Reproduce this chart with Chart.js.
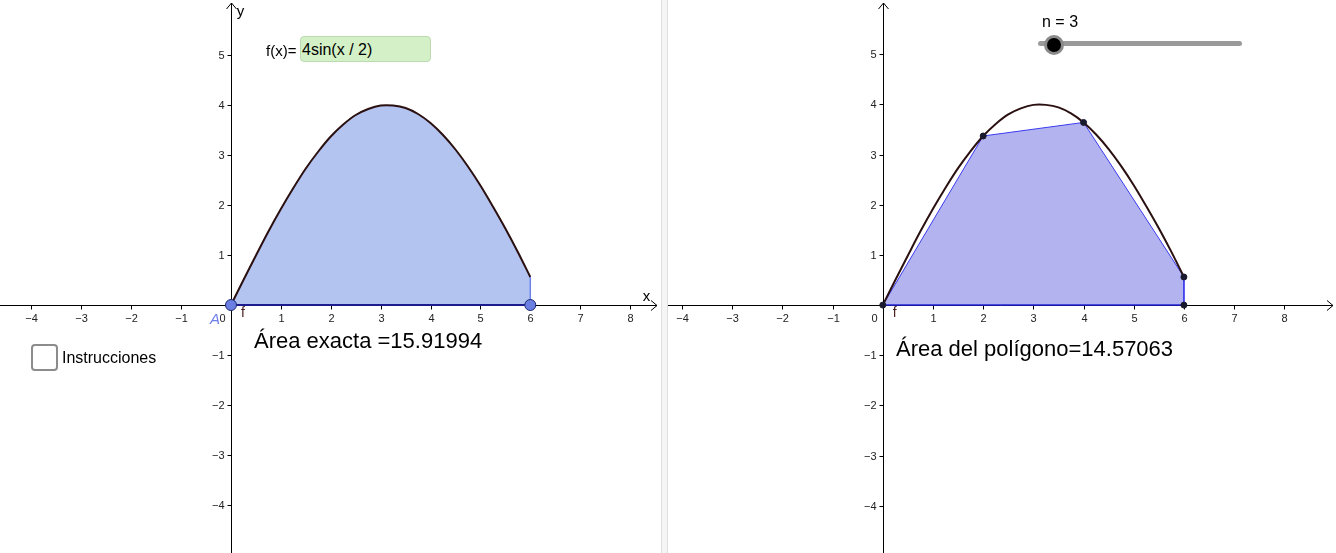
<!DOCTYPE html>
<html>
<head>
<meta charset="utf-8">
<script src="https://cdn.jsdelivr.net/npm/chart.js@4"></script>
<style>
  body { margin: 0; width: 1336px; height: 553px; overflow: hidden; background: #fff; position: relative;
         font-family: "Liberation Sans", Arial, sans-serif; }
  canvas { position: absolute; top: 0; }
  #left { left: 0; }
  #right { left: 668px; }
  .divider { position: absolute; left: 661px; top: 0; width: 5px; height: 553px; background: #f5f5f5;
             border-left: 1px solid #dedede; border-right: 1px solid #dedede; }
  .txt { position: absolute; white-space: nowrap; color: #000; line-height: 1; }
  .input { position: absolute; left: 300px; top: 36px; width: 128px; height: 24px; background: #d3f0c6;
           border: 1px solid #bcd9b0; border-radius: 4px; font-size: 16px; line-height: 25px; padding-left: 1px; box-sizing: content-box; }
  .check { position: absolute; left: 31px; top: 344px; width: 23px; height: 23px; border: 2px solid #8c8c8c;
           border-radius: 4px; background: #fff; }
  .track { position: absolute; left: 1038px; top: 41px; width: 204px; height: 5px; background: #9a9a9a; border-radius: 3px; }
  .knob { position: absolute; left: 1044px; top: 35px; width: 14px; height: 14px; background: #000;
          border: 3px solid #8a8a8a; border-radius: 50%; }
</style>
</head>
<body>
<canvas id="left" width="661" height="553"></canvas>
<div class="divider"></div>
<canvas id="right" width="668" height="553"></canvas>

<div class="txt" style="left:266px;top:43px;font-size:15px">f(x)=</div>
<div class="input">4sin(x / 2)</div>
<div class="check"></div>
<div class="txt" style="left:62px;top:350px;font-size:16px">Instrucciones</div>
<div class="txt" style="left:254px;top:330px;font-size:22px">Área exacta =15.91994</div>
<div class="txt" style="left:1042px;top:14px;font-size:16px">n = 3</div>
<div class="track"></div>
<div class="knob"></div>
<div class="txt" style="left:896px;top:338px;font-size:22px">Área del polígono=14.57063</div>

<script>
// f(x) = 4sin(x/2)
const curveX = [0, 0.25, 0.5, 0.75, 1, 1.25, 1.5, 1.75, 2, 2.25, 2.5, 2.75, 3,
                3.25, 3.5, 3.75, 4, 4.25, 4.5, 4.75, 5, 5.25, 5.5, 5.75, 6];
const curveY = [0, 0.50, 0.99, 1.47, 1.92, 2.34, 2.73, 3.07, 3.37, 3.61, 3.80, 3.92, 3.99,
                3.99, 3.94, 3.82, 3.64, 3.40, 3.11, 2.77, 2.39, 1.97, 1.53, 1.06, 0.56];

// integration limits (points on the x axis)
const limitsX = [0, 6];
const limitsY = [0, 0];
const rightEdgeX = [6, 6];
const rightEdgeY = [0, 0.56];

// polygon with n = 3
const polyX = [0, 2, 4, 6, 6];
const polyY = [0, 3.37, 3.64, 0.56, 0];

const xTicks = [-4, -3, -2, -1, 1, 2, 3, 4, 5, 6, 7, 8];
const yTicks = [-4, -3, -2, -1, 1, 2, 3, 4, 5];

const pts = (xs, ys) => xs.map((x, i) => ({ x: x, y: ys[i] }));
const fmt = v => v < 0 ? '\u2212' + Math.abs(v) : String(v);

const axesPlugin = {
  id: 'axes',
  beforeDatasetsDraw(chart, args, opts) {
    const { ctx, chartArea: a, scales: { x, y } } = chart;
    const x0 = Math.round(x.getPixelForValue(0)) + 0.5;
    const y0 = Math.round(y.getPixelForValue(0)) + 0.5;
    ctx.save();
    ctx.strokeStyle = '#000';
    ctx.lineWidth = 1;
    const xr = a.right - opts.arrowGap;
    ctx.beginPath();
    ctx.moveTo(a.left, y0); ctx.lineTo(xr, y0);
    ctx.moveTo(xr - 6, y0 - 5); ctx.lineTo(xr, y0); ctx.lineTo(xr - 6, y0 + 5);
    ctx.moveTo(x0, a.bottom); ctx.lineTo(x0, a.top + 3);
    ctx.moveTo(x0 - 5, a.top + 9); ctx.lineTo(x0, a.top + 3); ctx.lineTo(x0 + 5, a.top + 9);
    ctx.stroke();

    ctx.fillStyle = '#222';
    ctx.font = '11px "Liberation Sans", Arial, sans-serif';
    ctx.textBaseline = 'middle';
    ctx.textAlign = 'center';
    xTicks.forEach(v => {
      const px = Math.round(x.getPixelForValue(v)) + 0.5;
      ctx.beginPath(); ctx.moveTo(px, y0); ctx.lineTo(px, y0 + 4); ctx.stroke();
      ctx.fillText(fmt(v), px, y0 + 13);
    });
    ctx.textAlign = 'right';
    yTicks.forEach(v => {
      const py = Math.round(y.getPixelForValue(v)) + 0.5;
      ctx.beginPath(); ctx.moveTo(x0 - 4, py); ctx.lineTo(x0, py); ctx.stroke();
      ctx.fillText(fmt(v), x0 - 7, py);
    });
    ctx.textAlign = 'center';
    ctx.fillText('0', x0 - 9, y0 + 13);

    if (opts.axisNames) {
      ctx.font = '15px "Liberation Sans", Arial, sans-serif';
      ctx.fillStyle = '#000';
      ctx.fillText('x', x.getPixelForValue(8.33), y0 - 9);
      ctx.fillText('y', x0 + 9, a.top + 12);
    }
    ctx.restore();
  },
  afterDatasetsDraw(chart, args, opts) {
    const { ctx, scales: { x, y } } = chart;
    const x0 = x.getPixelForValue(0), y0 = y.getPixelForValue(0);
    ctx.save();
    ctx.textBaseline = 'middle';
    ctx.textAlign = 'center';
    ctx.fillStyle = '#4a2020';
    ctx.font = '14px "Liberation Sans", Arial, sans-serif';
    ctx.fillText('f', x0 + 12, y0 + 8);
    if (opts.pointName) {
      ctx.fillStyle = '#6f7fe8';
      ctx.font = 'italic 15px "Liberation Sans", Arial, sans-serif';
      ctx.fillText('A', x0 - 16, y0 + 15);
    }
    ctx.restore();
  }
};

function baseOptions(xmin, xmax, ymin, ymax, axesOpts) {
  return {
    responsive: false,
    animation: false,
    events: [],
    layout: { padding: 0, autoPadding: false },
    elements: { point: { radius: 0 } },
    scales: {
      x: { type: 'linear', min: xmin, max: xmax, display: false },
      y: { type: 'linear', min: ymin, max: ymax, display: false }
    },
    plugins: { legend: { display: false }, tooltip: { enabled: false }, axes: axesOpts }
  };
}

new Chart(document.getElementById('left').getContext('2d'), {
  type: 'line',
  data: {
    datasets: [
      { data: pts(limitsX, limitsY), showLine: false, pointRadius: 5.5, pointBackgroundColor: '#6b7fe2',
        pointBorderColor: '#1e2a70', pointBorderWidth: 1, order: 0, clip: false },
      { data: pts(curveX, curveY), borderColor: '#2a1010', borderWidth: 2, tension: 0.35,
        fill: false, order: 1 },
      { data: pts(limitsX, limitsY), borderColor: '#1c1c8e', borderWidth: 2, fill: false, order: 2 },
      { data: pts(rightEdgeX, rightEdgeY), borderColor: '#6a84ea', borderWidth: 1.5, fill: false, order: 2 },
      { data: pts(curveX, curveY), borderWidth: 0, borderColor: 'rgba(0,0,0,0)', backgroundColor: '#b4c4f1',
        tension: 0.35, fill: 'origin', order: 3 }
    ]
  },
  options: baseOptions(-4.63, 8.62, -4.96, 6.1, { arrowGap: 4, axisNames: true, pointName: true }),
  plugins: [axesPlugin]
});

new Chart(document.getElementById('right').getContext('2d'), {
  type: 'line',
  data: {
    datasets: [
      { data: pts(polyX, polyY), showLine: false, pointRadius: 3, pointBackgroundColor: '#1a1a2e',
        pointBorderColor: '#1a1a2e', order: 0, clip: false },
      { data: pts(curveX, curveY), borderColor: '#2a1010', borderWidth: 2, tension: 0.35,
        fill: false, order: 1 },
      { data: pts(limitsX, limitsY), borderColor: '#2424d8', borderWidth: 1.5, fill: false, order: 2 },
      { data: pts(polyX, polyY), borderColor: '#3a3af0', borderWidth: 1, backgroundColor: '#b3b3ef',
        fill: 'origin', order: 3 }
    ]
  },
  options: baseOptions(-4.28, 9.03, -4.94, 6.08, { arrowGap: 3, axisNames: false, pointName: false }),
  plugins: [axesPlugin]
});
</script>
</body>
</html>
